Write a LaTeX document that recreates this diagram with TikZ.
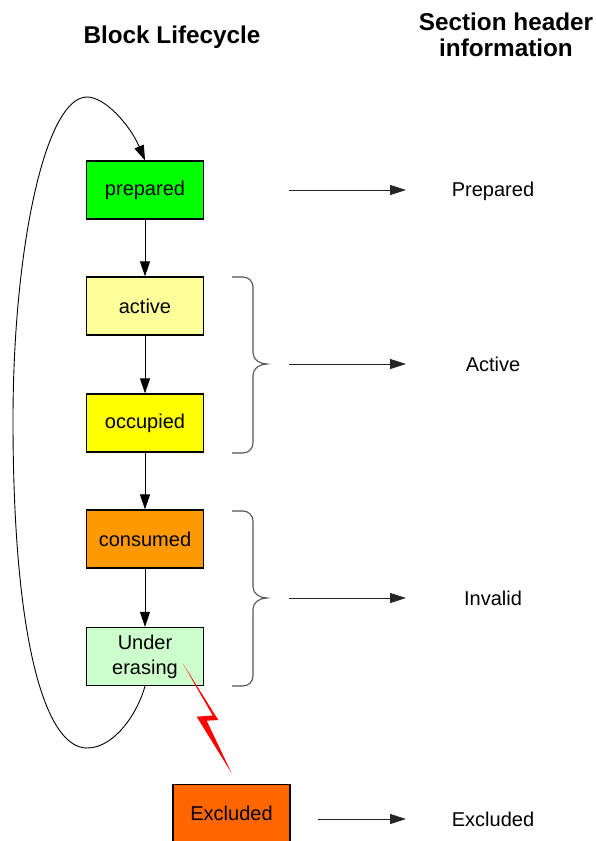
\documentclass[tikz,border=0pt]{standalone}
\usepackage{fontspec}
\setmainfont{Liberation Sans}
\usetikzlibrary{arrows.meta}
\definecolor{cPrep}{HTML}{00FF00}
\definecolor{cAct}{HTML}{FFFF99}
\definecolor{cOcc}{HTML}{FFFF00}
\definecolor{cCons}{HTML}{FF9900}
\definecolor{cErase}{HTML}{CCFFCC}
\definecolor{cExcl}{HTML}{FF6600}
\definecolor{cBrace}{HTML}{555555}
\tikzset{
  stbox/.style={draw=black, line width=1.3pt, minimum width=117pt, minimum height=58pt, inner sep=0pt, align=center, font=\fontsize{20}{25}\selectfont},
  flow/.style={line width=0.9pt, -{Triangle[length=15pt,width=10pt]}},
  outarr/.style={draw=black!85, line width=1pt, -{Triangle[length=16pt,width=10pt]}},
  bracestyle/.style={draw=cBrace, line width=1.1pt},
  lbl/.style={font=\fontsize{20}{24}\selectfont},
  ttl/.style={font=\bfseries\fontsize{24.3}{26}\selectfont, align=center}
}
\begin{document}
\begin{tikzpicture}[x=1pt,y=-1pt]
\useasboundingbox (0,0) rectangle (596,841);
% titles
\node[ttl] (t1) at (172,37) {Block Lifecycle};
\node[ttl] (t2) at (506,35) {Section header\\information};
% boxes
\node[stbox, fill=cPrep] (p) at (145,190) {prepared};
\node[stbox, fill=cAct] (a) at (145,306) {active};
\node[stbox, fill=cOcc] (o) at (145,423) {occupied};
\node[stbox, fill=cCons] (c) at (145,539) {consumed};
\node[stbox, fill=cErase] (u) at (145,656.5) {Under\\erasing};
\node[stbox, fill=cExcl] (e) at (231.5,813.5) {Excluded};
% flow arrows
\draw[flow] (p.south) -- (a.north);
\draw[flow] (a.south) -- (o.north);
\draw[flow] (o.south) -- (c.north);
\draw[flow] (c.south) -- (u.north);
% loop
\coordinate (lb) at (87,748);
\coordinate (ll) at (13,420);
\coordinate (lt) at (87,97);
\draw[flow] (u.south) .. controls (138,712) and (115,748) .. (lb)
  .. controls (45,748) and (13,640) .. (ll)
  .. controls (13,250) and (45,97) .. (lt)
  .. controls (105,97) and (130,125) .. (p.north);
% braces
\coordinate (b1) at (267,364);
\coordinate (b2) at (267,598);
\draw[bracestyle] (232,277) -- (243,277) to[out=0,in=90] (253,287) -- (253,353)
  to[out=-90,in=180] (b1) to[out=180,in=90] (253,375) -- (253,443)
  to[out=-90,in=0] (243,453) -- (232,453);
\draw[bracestyle] (232,511) -- (243,511) to[out=0,in=90] (253,521) -- (253,587)
  to[out=-90,in=180] (b2) to[out=180,in=90] (253,609) -- (253,676)
  to[out=-90,in=0] (243,686) -- (232,686);
% right labels
\node[lbl] (lp) at (493,191) {Prepared};
\node[lbl] (la) at (493,364) {Active};
\node[lbl] (li) at (493,598) {Invalid};
\node[lbl] (le) at (493,819) {Excluded};
% output arrows
\coordinate (s1) at (289,190);
\coordinate (s2) at (289,364);
\coordinate (s3) at (289,598);
\coordinate (s4) at (318,819);
\draw[outarr] (s1) -- (406,190);
\draw[outarr] (s2) -- (406,364);
\draw[outarr] (s3) -- (406,598);
\draw[outarr] (s4) -- (406,819);
% lightning
\fill[red] (182.7,663.3) -- (212.7,715.5) -- (196.7,716.7) -- (231.7,773.3)
  -- (206.7,720.7) -- (218.3,720) -- cycle;
\end{tikzpicture}
\end{document}
